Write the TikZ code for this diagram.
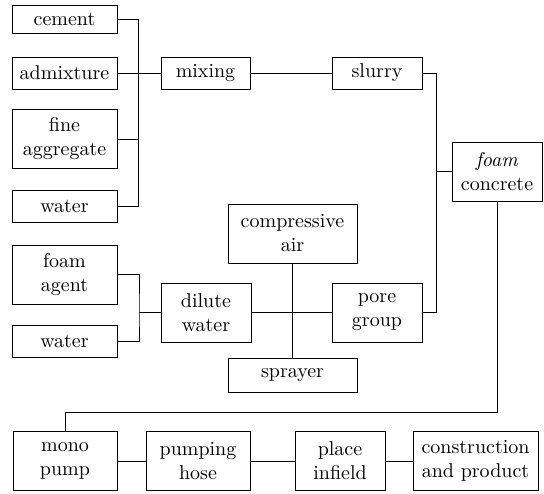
\documentclass[tikz,border=0pt]{standalone}
\usepackage{tikz}
\tikzset{
  blk/.style={draw, line width=0.5pt, align=center, inner sep=1pt, minimum height=16pt},
  tall/.style={minimum height=29.5pt},
  wire/.style={line width=0.5pt}
}
\begin{document}
\begin{tikzpicture}[x=0.5pt,y=-0.5pt]
    \useasboundingbox (0,0) rectangle (544,493);
    % raw materials
    \node[blk, minimum width=52.5pt, minimum height=14pt] (cement) at (64.5,19) {cement};
    \node[blk, minimum width=52.5pt] (admix) at (64.5,73) {admixture};
    \node[blk, tall, minimum width=52.5pt] (fineagg) at (64.5,139) {fine\\aggregate};
    \node[blk, minimum width=52.5pt] (waterA) at (64.5,206) {water};
    \node[blk, minimum width=44.5pt] (mixing) at (205.5,73) {mixing};
    \node[blk, minimum width=45pt] (slurry) at (377,73) {slurry};
    \node[blk, tall, minimum width=45pt] (foamcon) at (497,171.5) {\textit{foam}\\concrete};
    % foam side
    \node[blk, tall, minimum width=52.5pt] (foamag) at (64.5,274.5) {foam\\agent};
    \node[blk, minimum width=52.5pt] (waterB) at (64.5,341) {water};
    \node[blk, tall, minimum width=45pt] (dilute) at (206,312.5) {dilute\\water};
    \node[blk, tall, minimum width=64.5pt] (compair) at (292.5,233.5) {compressive\\air};
    \node[blk, tall, minimum width=45pt] (pore) at (377,312.5) {pore\\group};
    \node[blk, minimum width=64.5pt, minimum height=17pt] (sprayer) at (292.5,375) {sprayer};
    % placing
    \node[blk, tall, minimum width=52pt] (mono) at (65,461) {mono\\pump};
    \node[blk, tall, minimum width=52pt] (hose) at (198,461) {pumping\\hose};
    \node[blk, tall, minimum width=45pt] (infield) at (340,461) {place\\infield};
    \node[blk, tall, minimum width=62.5pt] (product) at (475.5,461) {construction\\and product};
    \coordinate (jmix) at (138.5,73);
    \coordinate (jfoam) at (436,171.5);
    \coordinate (jdil) at (139,312.5);
    \coordinate (jpump) at (65,412);
    \draw[wire] (cement.east) -| (jmix) |- (waterA.east);
    \draw[wire] (fineagg.east) -| (jmix);
    \draw[wire] (admix.east) -- (mixing.west);
    \draw[wire] (mixing.east) -- (slurry.west);
    \draw[wire] (slurry.east) -| (jfoam) -- (foamcon.west);
    \draw[wire] (pore.east) -| (jfoam);
    \draw[wire] (foamag.east) -| (jdil) |- (waterB.east);
    \draw[wire] (jdil) -- (dilute.west);
    \draw[wire] (dilute.east) -- (pore.west);
    \draw[wire] (compair.south) -- (sprayer.north);
    \draw[wire] (foamcon.south) |- (jpump) -- (mono.north);
    \draw[wire] (mono.east) -- (hose.west);
    \draw[wire] (hose.east) -- (infield.west);
    \draw[wire] (infield.east) -- (product.west);
\end{tikzpicture}
\end{document}
